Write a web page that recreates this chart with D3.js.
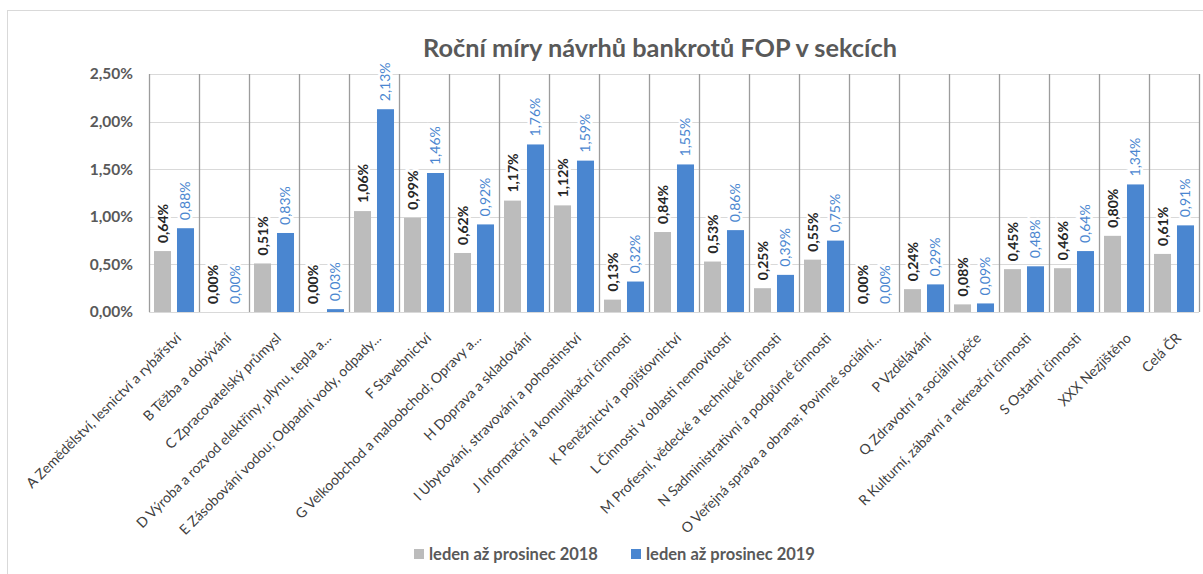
<!DOCTYPE html>
<html>
<head>
<meta charset="utf-8">
<script src="https://cdn.jsdelivr.net/npm/d3@7"></script>
<style>
  body { margin: 0; background: #fff; }
  svg { display: block; font-family: Lato, "Open Sans", sans-serif; }
</style>
</head>
<body>
<div id="chart"></div>
<script>
const categories = [
  "A Zemědělství, lesnictví a rybářství",
  "B Těžba a dobývání",
  "C Zpracovatelský průmysl",
  "D Výroba a rozvod elektřiny, plynu, tepla a...",
  "E Zásobování vodou; Odpadní vody, odpady...",
  "F Stavebnictví",
  "G Velkoobchod a maloobchod; Opravy a...",
  "H Doprava a skladování",
  "I Ubytování, stravování a pohostinství",
  "J Informační a komunikační činnosti",
  "K Peněžnictví a pojišťovnictví",
  "L Činnosti v oblasti nemovitostí",
  "M Profesní, vědecké a technické činnosti",
  "N Sadministrativní a podpůrné činnosti",
  "O Veřejná správa a obrana; Povinné sociální...",
  "P Vzdělávání",
  "Q Zdravotní a sociální péče",
  "R Kulturní, zábavní a rekreační činnosti",
  "S Ostatní činnosti",
  "XXX Nezjištěno",
  "Celá ČR"
];

const values2018 = [0.0064, 0, 0.0051, 0, 0.0106, 0.0099, 0.0062, 0.0117, 0.0112, 0.0013, 0.0084,
  0.0053, 0.0025, 0.0055, 0, 0.0024, 0.0008, 0.0045, 0.0046, 0.0080, 0.0061];
const values2019 = [0.0088, 0, 0.0083, 0.0003, 0.0213, 0.0146, 0.0092, 0.0176, 0.0159, 0.0032, 0.0155,
  0.0086, 0.0039, 0.0075, 0, 0.0029, 0.0009, 0.0048, 0.0064, 0.0134, 0.0091];

const seriesNames = ["leden až prosinec 2018", "leden až prosinec 2019"];
const yTicks = [0, 0.005, 0.01, 0.015, 0.02, 0.025];
const title = "Roční míry návrhů bankrotů FOP v sekcích";

const width = 1203;
const height = 574;
const plotLeft = 149;
const plotRight = 1199;
const plotTop = 74;
const plotBottom = 312;
const colors = ["#bcbcbc", "#4a86d0"];
const labelColors = ["#262626", "#4a86d0"];

const czech = d3.formatLocale({ decimal: ",", thousands: " ", grouping: [3], currency: ["", " Kč"] });
const pct = czech.format(".2%");

const svg = d3.select("#chart").append("svg").attr("width", width).attr("height", height);

svg.append("rect")
  .attr("x", 7.5).attr("y", 10.5)
  .attr("width", width + 20).attr("height", height + 20)
  .attr("fill", "#fff").attr("stroke", "#d9d9d9");

const x = d3.scaleBand().domain(categories).range([plotLeft, plotRight]);
const xSeries = d3.scaleBand().domain([0, 1]).range([0, x.bandwidth()])
  .paddingInner(0.26).paddingOuter(0.217);
const y = d3.scaleLinear().domain([0, 0.025]).range([plotBottom, plotTop]);

// horizontal gridlines
svg.append("g")
  .selectAll("line")
  .data(yTicks)
  .join("line")
  .attr("x1", plotLeft).attr("x2", plotRight)
  .attr("y1", (d) => Math.round(y(d)) + 0.5)
  .attr("y2", (d) => Math.round(y(d)) + 0.5)
  .attr("stroke", "#d9d9d9");

// vertical category separators
const separators = categories.map((c) => x(c)).concat([plotRight]);
svg.append("g")
  .selectAll("line")
  .data(separators)
  .join("line")
  .attr("x1", (d) => Math.round(d) + 0.5).attr("x2", (d) => Math.round(d) + 0.5)
  .attr("y1", plotTop).attr("y2", plotBottom)
  .attr("stroke", "#9c9c9c").attr("stroke-width", 1.3);

// y axis
const yAxis = svg.append("g")
  .attr("transform", `translate(${plotLeft},0)`)
  .call(d3.axisLeft(y).tickValues(yTicks).tickFormat(pct).tickSize(0).tickPadding(16));
yAxis.select(".domain").remove();
yAxis.selectAll("text")
  .attr("font-family", "Lato, sans-serif")
  .attr("font-size", 15.5)
  .attr("font-weight", "bold")
  .attr("fill", "#595959");

// bars
const rows = categories.map((c, i) => ({ category: c, values: [values2018[i], values2019[i]] }));
const groups = svg.append("g")
  .selectAll("g")
  .data(rows)
  .join("g")
  .attr("transform", (d) => `translate(${x(d.category)},0)`);

groups.selectAll("rect")
  .data((d) => d.values.map((v, s) => ({ v, s })))
  .join("rect")
  .attr("x", (d) => xSeries(d.s))
  .attr("width", xSeries.bandwidth())
  .attr("y", (d) => y(d.v))
  .attr("height", (d) => plotBottom - y(d.v))
  .attr("fill", (d) => colors[d.s]);

groups.selectAll("text")
  .data((d) => d.values.map((v, s) => ({ v, s })))
  .join("text")
  .attr("transform", (d) =>
    `translate(${xSeries(d.s) + xSeries.bandwidth() / 2 + 5},${y(d.v) - 8}) rotate(-90)`)
  .attr("text-anchor", "start")
  .attr("font-size", 14)
  .attr("font-weight", (d) => (d.s === 0 ? "bold" : "normal"))
  .attr("fill", (d) => labelColors[d.s])
  .attr("stroke", "#fff")
  .attr("stroke-width", 5)
  .attr("paint-order", "stroke")
  .text((d) => pct(d.v));

// category labels
svg.append("g")
  .selectAll("text")
  .data(categories)
  .join("text")
  .attr("transform", (d) => `translate(${x(d) + x.bandwidth() / 2 + 1},${plotBottom + 20}) rotate(-45)`)
  .attr("text-anchor", "end")
  .attr("dy", "0.71em")
  .attr("font-size", 14)
  .attr("fill", "#404040")
  .text((d) => d);

// title
svg.append("text")
  .attr("x", 660).attr("y", 57)
  .attr("text-anchor", "middle")
  .attr("font-size", 25.3)
  .attr("font-weight", "bold")
  .attr("fill", "#595959")
  .text(title);

// legend
const legendX = [414, 631];
const legend = svg.append("g")
  .selectAll("g")
  .data(seriesNames)
  .join("g")
  .attr("transform", (d, i) => `translate(${legendX[i]},554)`);
legend.append("rect")
  .attr("x", 0).attr("y", -5).attr("width", 10).attr("height", 10)
  .attr("fill", (d, i) => colors[i]);
legend.append("text")
  .attr("x", 15).attr("y", 0).attr("dy", "0.35em")
  .attr("font-size", 16.5)
  .attr("font-weight", "bold")
  .attr("fill", "#595959")
  .text((d) => d);
</script>
</body>
</html>
